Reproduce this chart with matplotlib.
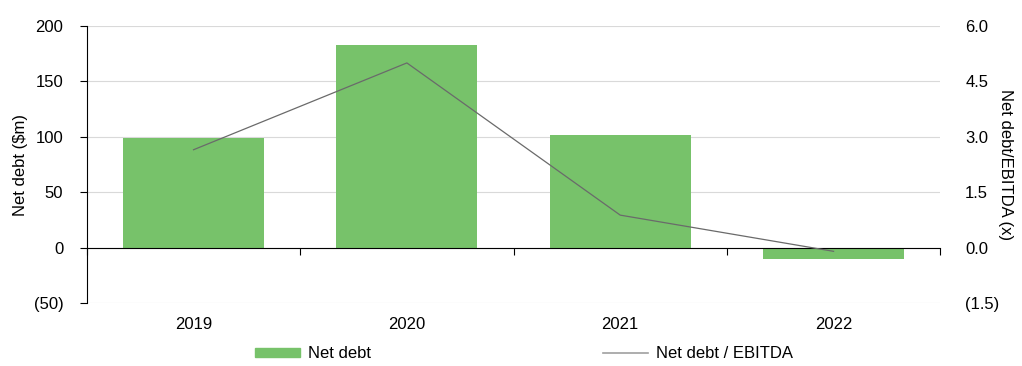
import matplotlib
matplotlib.use('Agg')
from matplotlib import pyplot as plt
from matplotlib.ticker import FuncFormatter, FixedLocator

years = ['2019', '2020', '2021', '2022']
net_debt = [98.5, 182.5, 101.5, -10.5]
net_debt_ebitda = [2.65, 5.0, 0.88, -0.1]

left_ticks = [-50, 0, 50, 100, 150, 200]
right_ticks = [-1.5, 0.0, 1.5, 3.0, 4.5, 6.0]

plt.rcParams['font.family'] = ['Liberation Sans', 'DejaVu Sans']
plt.rcParams['font.size'] = 12

def paren_int(v, pos):
	if v < 0:
		return '({:.0f})'.format(-v)
	return '{:.0f}'.format(v)

def paren_1dp(v, pos):
	if v < -1e-9:
		return '({:.1f})'.format(-v)
	return '{:.1f}'.format(abs(v))

def main():
	fig = plt.figure(figsize=(10.22, 3.66), dpi=100)
	ax = fig.add_axes([0.085, 0.172, 0.835, 0.757])
	x = list(range(len(years)))

	ax.bar(x, net_debt, width=0.66, color='#77c26a', zorder=2)
	ax.set_xlim(-0.5, len(years) - 0.5)
	ax.set_ylim(left_ticks[0], left_ticks[-1])
	ax.set_yticks(left_ticks)
	ax.yaxis.set_major_formatter(FuncFormatter(paren_int))
	ax.grid(axis='y', color='#d9d9d9', lw=0.8, zorder=0)
	ax.tick_params(axis='y', direction='out', length=5, width=0.8, colors='black', pad=12)
	ax.set_ylabel('Net debt ($m)', labelpad=4)

	for s in ['top', 'right']:
		ax.spines[s].set_visible(False)
	ax.spines['left'].set_linewidth(0.8)
	# bottom spine acts as the zero line with boundary ticks
	ax.spines['bottom'].set_position(('data', 0))
	ax.spines['bottom'].set_linewidth(0.8)
	ax.spines['bottom'].set_zorder(4)
	ax.xaxis.set_major_locator(FixedLocator([i + 0.5 for i in range(-1, len(years))]))
	ax.tick_params(axis='x', direction='out', length=5, width=0.8, labelbottom=False)

	sec = ax.secondary_xaxis('bottom')
	sec.set_xticks(x)
	sec.set_xticklabels(years)
	sec.spines['bottom'].set_visible(False)
	sec.tick_params(length=0, pad=10)

	ax2 = ax.twinx()
	ax2.plot(x, net_debt_ebitda, color='#6a6a6a', lw=0.9, zorder=3)
	ax2.set_ylim(right_ticks[0], right_ticks[-1])
	ax2.set_yticks(right_ticks)
	ax2.yaxis.set_major_formatter(FuncFormatter(paren_1dp))
	ax2.tick_params(axis='y', length=0, pad=18)
	for s in ['top', 'right', 'left', 'bottom']:
		ax2.spines[s].set_visible(False)
	ax2.set_ylabel('Net debt/EBITDA (x)', rotation=270, labelpad=10)

	bar_handle = plt.Rectangle((0, 0), 1, 1, color='#77c26a')
	line_handle = plt.Line2D([], [], color='#a0a0a0', lw=1.2)
	fig.legend([bar_handle, line_handle], ['Net debt', 'Net debt / EBITDA'],
		loc='center left', bbox_to_anchor=(0.2495, 0.033), ncol=2, frameon=False,
		handlelength=2.7, handleheight=0.5, handletextpad=0.48, columnspacing=13.9,
		borderaxespad=0, borderpad=0)

	fig.savefig('out.png', dpi=100)

main()
